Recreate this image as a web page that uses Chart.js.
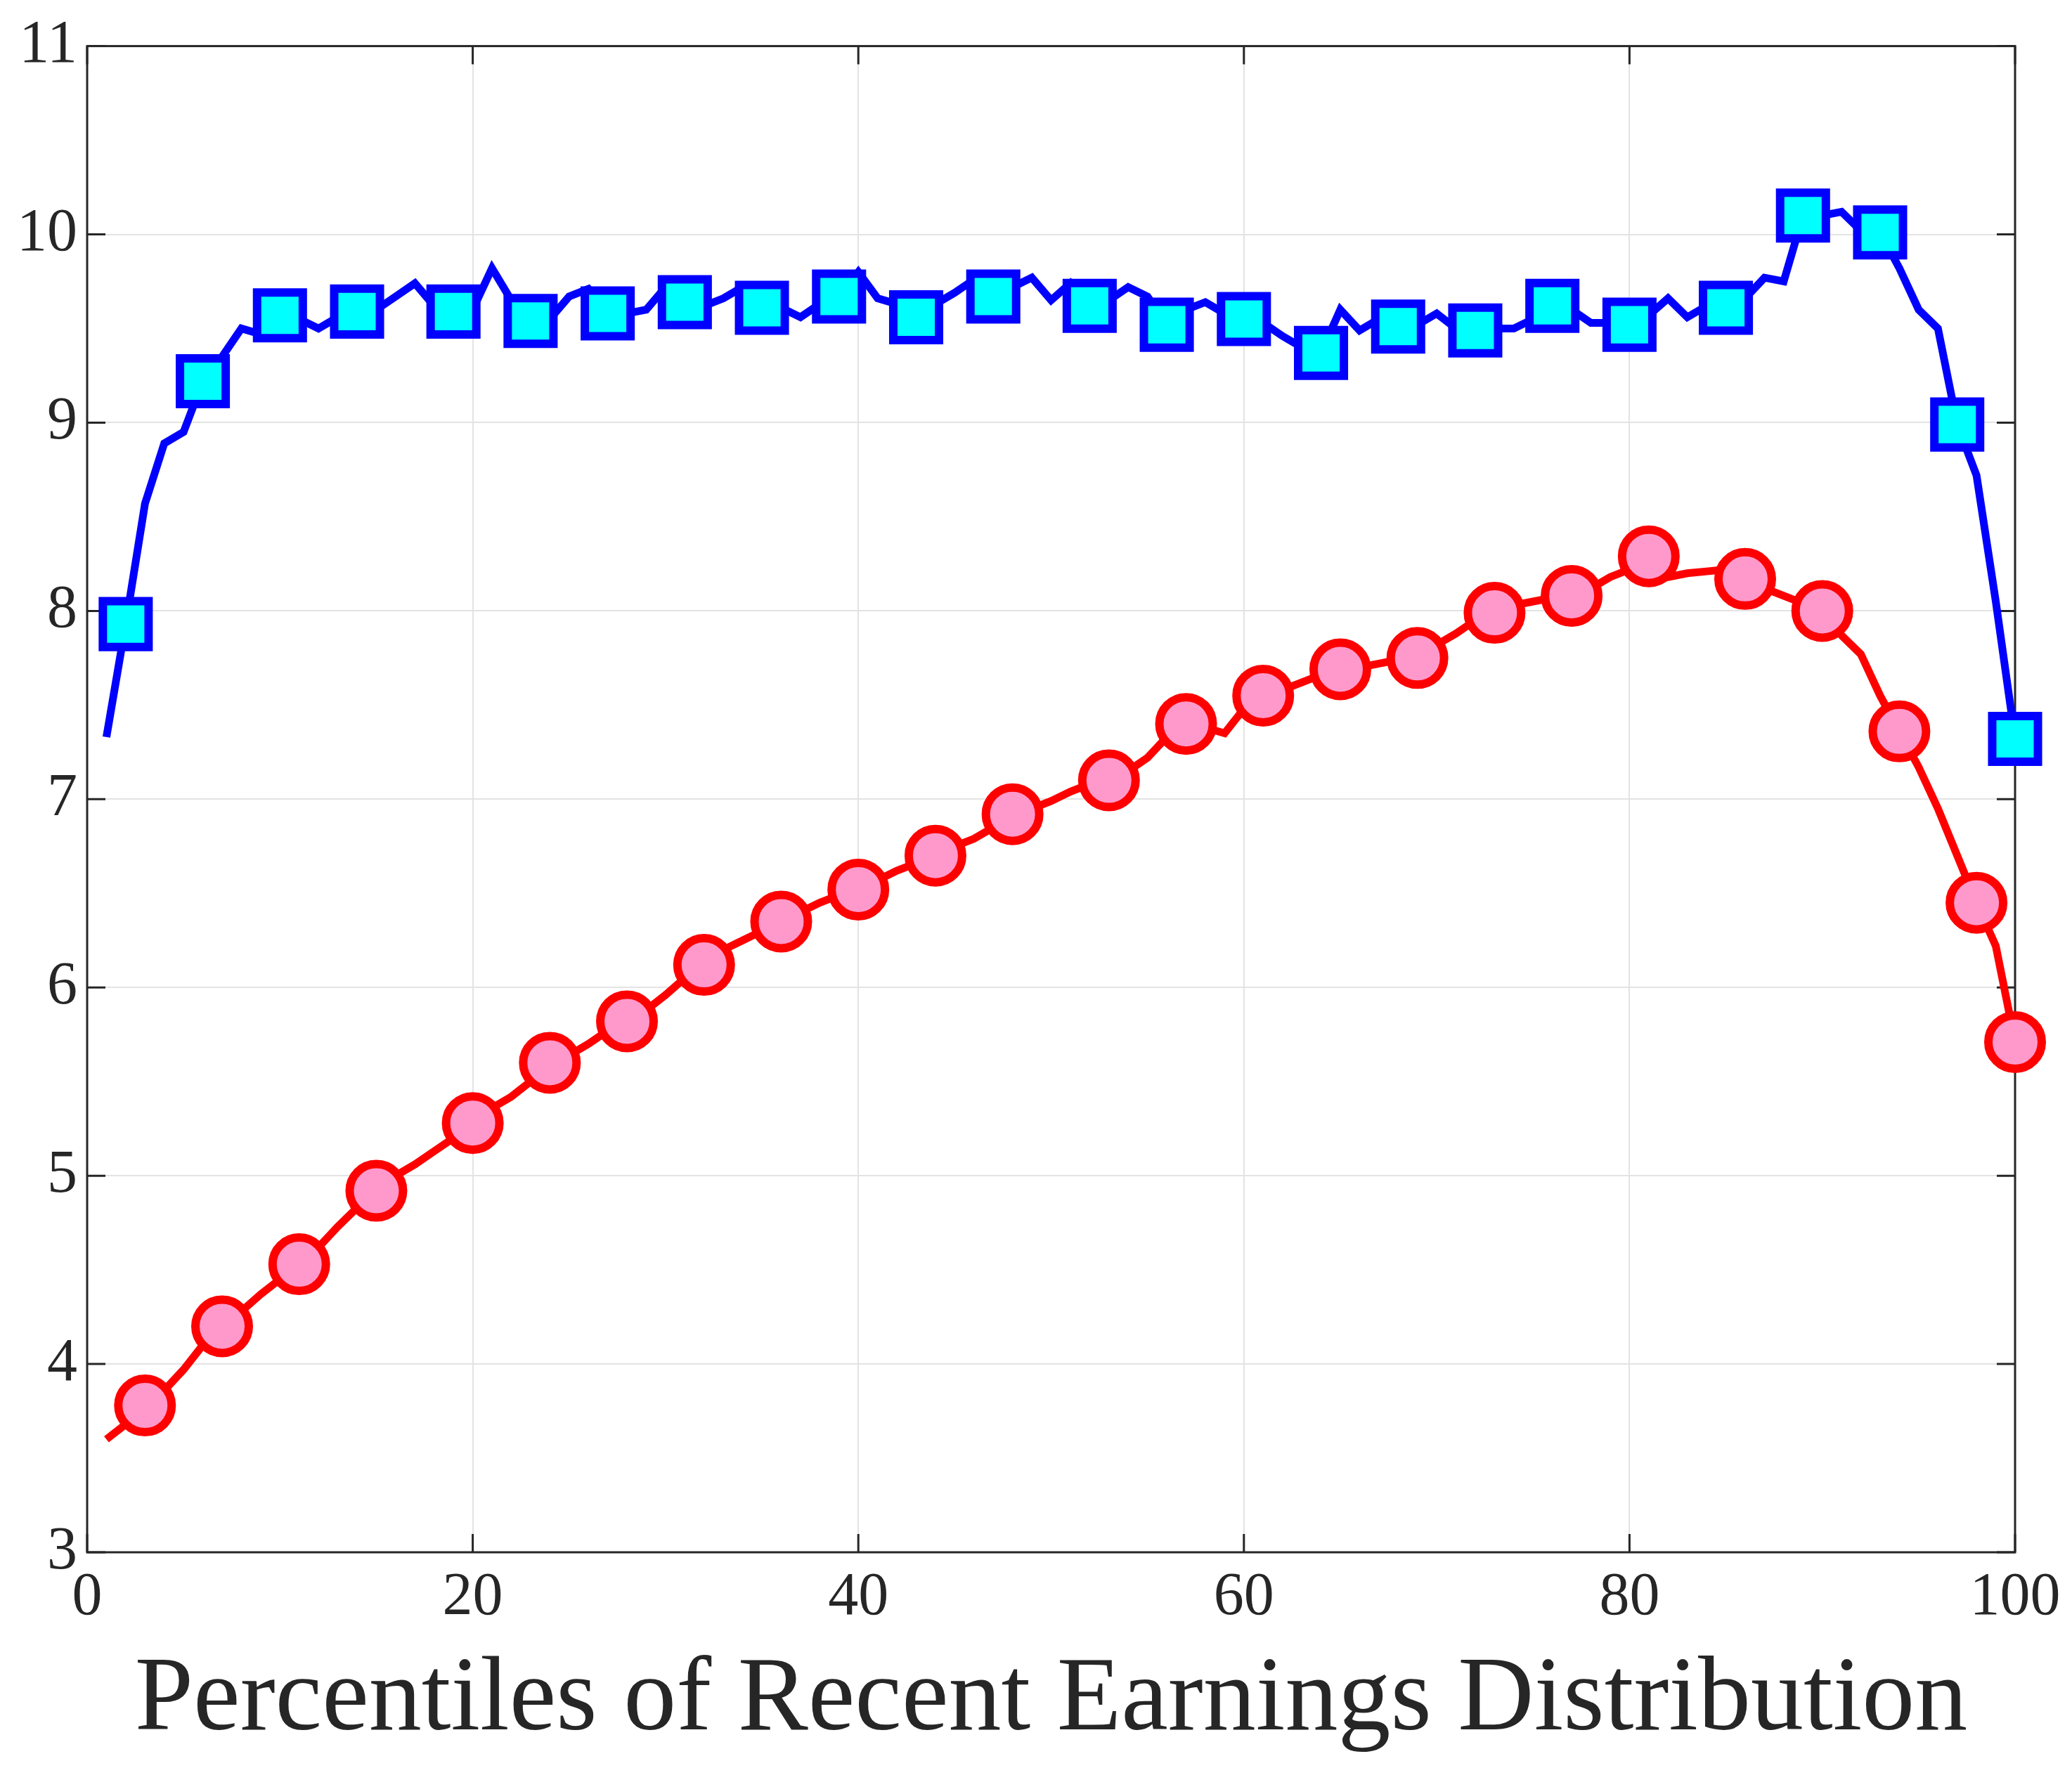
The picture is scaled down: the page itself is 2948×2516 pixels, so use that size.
<!DOCTYPE html>
<html><head><meta charset="utf-8">
<script src="https://cdn.jsdelivr.net/npm/chart.js@4"></script>
<style>html,body{margin:0;padding:0;background:#fff}#w{width:2948px;height:2516px}</style>
</head><body><div id="w"><canvas id="c"></canvas></div>
<script>
const percentiles = Array.from({length:100},(_,i)=>i+1);
const blueValues = [7.33,7.93,8.57,8.89,8.95,9.22,9.35,9.5,9.47,9.57,
9.55,9.5,9.56,9.59,9.6,9.67,9.74,9.62,9.59,9.6,
9.82,9.65,9.54,9.55,9.67,9.71,9.58,9.58,9.6,9.72,
9.64,9.62,9.66,9.72,9.61,9.61,9.56,9.63,9.67,9.8,
9.66,9.63,9.56,9.63,9.69,9.76,9.67,9.72,9.77,9.65,
9.74,9.62,9.65,9.72,9.67,9.52,9.6,9.64,9.58,9.55,
9.53,9.46,9.4,9.37,9.6,9.49,9.55,9.51,9.52,9.58,
9.5,9.49,9.5,9.5,9.55,9.62,9.6,9.53,9.53,9.52,
9.57,9.66,9.56,9.62,9.61,9.66,9.77,9.75,10.1,10.1,
10.12,10.02,10.01,9.82,9.6,9.5,8.99,8.72,8.05,7.32];
const redValues = [3.60,3.68,3.78,3.86,3.97,4.1,4.2,4.28,4.37,4.45,
4.53,4.62,4.73,4.83,4.92,5.0,5.06,5.13,5.2,5.28,
5.36,5.42,5.5,5.6,5.64,5.7,5.77,5.82,5.88,5.96,
6.05,6.12,6.2,6.25,6.3,6.35,6.4,6.45,6.49,6.52,
6.57,6.62,6.66,6.7,6.75,6.79,6.85,6.92,6.95,6.99,
7.04,7.08,7.1,7.15,7.22,7.33,7.4,7.38,7.35,7.48,
7.55,7.58,7.62,7.66,7.69,7.7,7.72,7.74,7.75,7.82,
7.88,7.95,7.99,8.03,8.05,8.07,8.08,8.12,8.18,8.22,
8.29,8.18,8.2,8.21,8.22,8.17,8.12,8.08,8.04,8.0,
7.87,7.77,7.55,7.36,7.17,6.95,6.7,6.45,6.22,5.71];
const blueMarkers = [2,6,10,14,19,23,27,31,35,39,43,47,52,56,60,64,68,72,76,80,85,89,93,97,100];
const redMarkers = [3,7,11,15,20,24,28,32,36,40,44,48,53,57,61,65,69,73,77,81,86,90,94,98,100];
const xTicks = [0,20,40,60,80,100];
const yTicks = [3,4,5,6,7,8,9,10,11];
const xTitle = 'Percentiles of Recent Earnings Distribution';

const pts = v => percentiles.map((x,i)=>({x, y:v[i]}));
const radii = m => percentiles.map(x => m.includes(x) ? 1 : 0);
const boxPlugin = {id:'box', beforeDatasetsDraw(ch){
  const {ctx, chartArea:a, scales:{x,y}} = ch;
  ctx.save(); ctx.strokeStyle='#262626'; ctx.lineWidth=3;
  ctx.strokeRect(a.left,a.top,a.right-a.left,a.bottom-a.top);
  const L=26; ctx.beginPath();
  xTicks.forEach(t=>{const p=x.getPixelForValue(t); ctx.moveTo(p,a.bottom); ctx.lineTo(p,a.bottom-L); ctx.moveTo(p,a.top); ctx.lineTo(p,a.top+L);});
  yTicks.forEach(t=>{const p=y.getPixelForValue(t); ctx.moveTo(a.left,p); ctx.lineTo(a.left+L,p); ctx.moveTo(a.right,p); ctx.lineTo(a.right-L,p);});
  ctx.stroke(); ctx.restore();
}};
new Chart(document.getElementById('c'), {
  type:'line',
  data:{datasets:[
    {data:pts(blueValues), clip:false, borderColor:'#0000ff', borderWidth:11, pointStyle:'rect',
     pointRadius:radii(blueMarkers).map(r=>r*46), pointBackgroundColor:'#00ffff', pointBorderColor:'#0000ff', pointBorderWidth:12, tension:0},
    {data:pts(redValues), clip:false, borderColor:'#ff0000', borderWidth:11, pointStyle:'circle',
     pointRadius:radii(redMarkers).map(r=>r*38), pointBackgroundColor:'#ff99cc', pointBorderColor:'#ff0000', pointBorderWidth:12, tension:0}
  ]},
  options:{responsive:true, maintainAspectRatio:false, animation:false,
    layout:{padding:{top:8,right:81,left:0,bottom:0}},
    plugins:{legend:{display:false}, tooltip:{enabled:false}},
    scales:{
      x:{type:'linear', min:0, max:100, afterBuildTicks:s=>{s.ticks=xTicks.map(v=>({value:v}));},
        grid:{color:'#e3e3e3', lineWidth:2, drawTicks:false}, border:{display:false},
        ticks:{color:'#262626', padding:14, font:{family:'Liberation Serif', size:86}},
        title:{display:true, text:xTitle, color:'#262626', padding:{top:-10}, font:{family:'Liberation Serif', size:150}},
        afterFit:s=>{s.height=307;}},
      y:{min:3, max:11, afterBuildTicks:s=>{s.ticks=yTicks.map(v=>({value:v}));},
        grid:{color:'#e3e3e3', lineWidth:2, drawTicks:false}, border:{display:false},
        ticks:{color:'#262626', padding:14, font:{family:'Liberation Serif', size:86}},
        afterFit:s=>{s.width=124;}}
    }},
  plugins:[boxPlugin]
});
</script></body></html>
